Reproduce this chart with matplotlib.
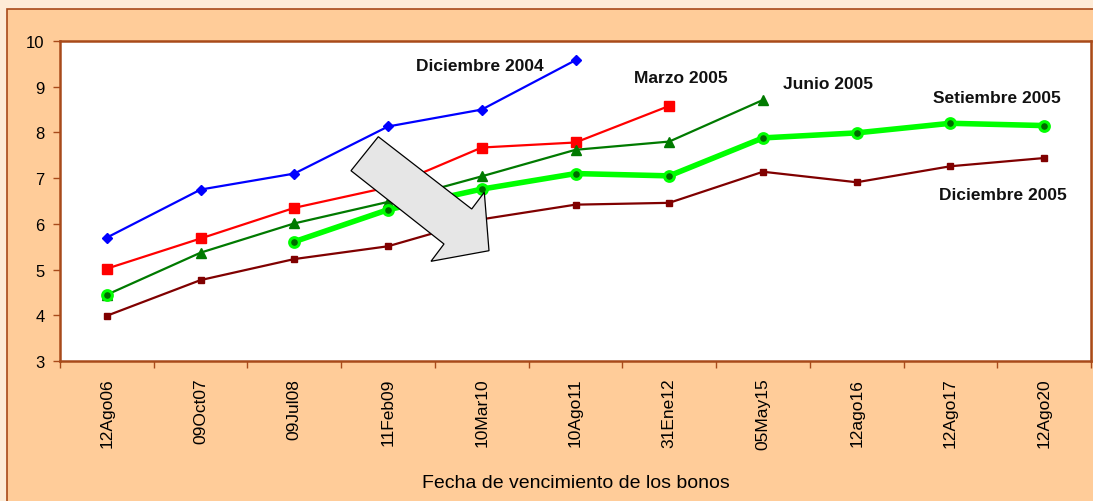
import numpy as np
import matplotlib
matplotlib.use("Agg")
import matplotlib.pyplot as plt
from matplotlib.patches import Rectangle, Polygon

plt.rcParams['font.family'] = ['Liberation Sans', 'DejaVu Sans']

categories = ["12Ago06", "09Oct07", "09Jul08", "11Feb09", "10Mar10", "10Ago11",
              "31Ene12", "05May15", "12ago16", "12Ago17", "12Ago20"]
nan = np.nan
dic2004 = [5.70, 6.75, 7.10, 8.13, 8.50, 9.58, nan, nan, nan, nan, nan]
mar2005 = [5.02, 5.68, 6.35, 6.80, 7.67, 7.78, 8.58, nan, nan, nan, nan]
jun2005 = [4.45, 5.37, 6.01, 6.48, 7.04, 7.62, 7.80, 8.71, nan, nan, nan]
set2005 = [4.45, nan, 5.61, 6.31, 6.76, 7.10, 7.05, 7.88, 7.99, 8.20, 8.15]
dic2005 = [3.99, 4.77, 5.23, 5.51, 6.10, 6.42, 6.46, 7.14, 6.91, 7.26, 7.44]
yticks = [3, 4, 5, 6, 7, 8, 9, 10]

W, H = 1093, 502
fig = plt.figure(figsize=(W / 100, H / 100), dpi=100)
fig.patch.set_facecolor('#FEEBD6')

brown = '#A84A1A'
fig.add_artist(Rectangle((7 / W, -0.1), 1.2, 1 - 10 / H + 0.1, transform=fig.transFigure,
                         facecolor='#FFCC99', edgecolor=brown, linewidth=1.2, zorder=-1))

ax = fig.add_axes([60 / W, (H - 362) / H, (1091 - 60) / W, (362 - 42) / H])
ax.set_facecolor('white')
for s in ax.spines.values():
    s.set_color(brown)
    s.set_linewidth(1.8)

x = np.arange(len(categories))
ax.plot(x, dic2004, color='#0000FF', lw=1.6, marker='D', ms=5.5, zorder=3)
ax.plot(x, mar2005, color='#FF0000', lw=1.6, marker='s', ms=7, zorder=3)
ax.plot(x, jun2005, color='#007A00', lw=1.6, marker='^', ms=7, zorder=3)
ax.plot(x, set2005, color='#00FF00', lw=4, marker='o', ms=7, mfc='#006A00',
        mec='#00FF00', mew=2.2, zorder=4)
ax.plot(x, dic2005, color='#800000', lw=1.6, marker='s', ms=5, zorder=3)

ax.set_xlim(-0.5, len(categories) - 0.5)
ax.set_ylim(3, 10)
ax.set_yticks(yticks)
ax.set_yticklabels([str(v) for v in yticks])
ax.set_xticks(x)
ax.set_xticklabels(categories, rotation=90, va='top')
ax.set_xticks(np.arange(-0.5, len(categories), 1.0), minor=True)
ax.tick_params(axis='x', which='major', length=0, pad=12, labelsize=12.5, colors='black')
ax.tick_params(axis='x', which='minor', length=5, width=1, color=brown, direction='out')
ax.tick_params(axis='y', length=5, width=1, color=brown, direction='out', labelsize=12, pad=6)
ax.set_xlabel('Fecha de vencimiento de los bonos', fontsize=14, labelpad=18)

labkw = dict(fontsize=12.5, fontweight='bold', ha='center', va='center', color='#111111')
ax.text(3.98, 9.47, 'Diciembre 2004', **labkw)
ax.text(6.12, 9.21, 'Marzo 2005', **labkw)
ax.text(7.69, 9.06, 'Junio 2005', **labkw)
ax.text(9.50, 8.77, 'Setiembre 2005', **labkw)
ax.text(9.56, 6.65, 'Diciembre 2005', **labkw)

arrow_px = [(378.3, 137.7), (471.7, 210), (484.3, 193.3), (489, 251.7),
            (431, 262.3), (444, 245), (351, 171.7)]
arrow_fig = [(px / W, 1 - py / H) for px, py in arrow_px]
fig.add_artist(Polygon(arrow_fig, closed=True, transform=fig.transFigure,
                       facecolor='#E6E6E6', edgecolor='black', linewidth=0.9, zorder=10))

fig.savefig('out.png', dpi=100, facecolor=fig.get_facecolor())
